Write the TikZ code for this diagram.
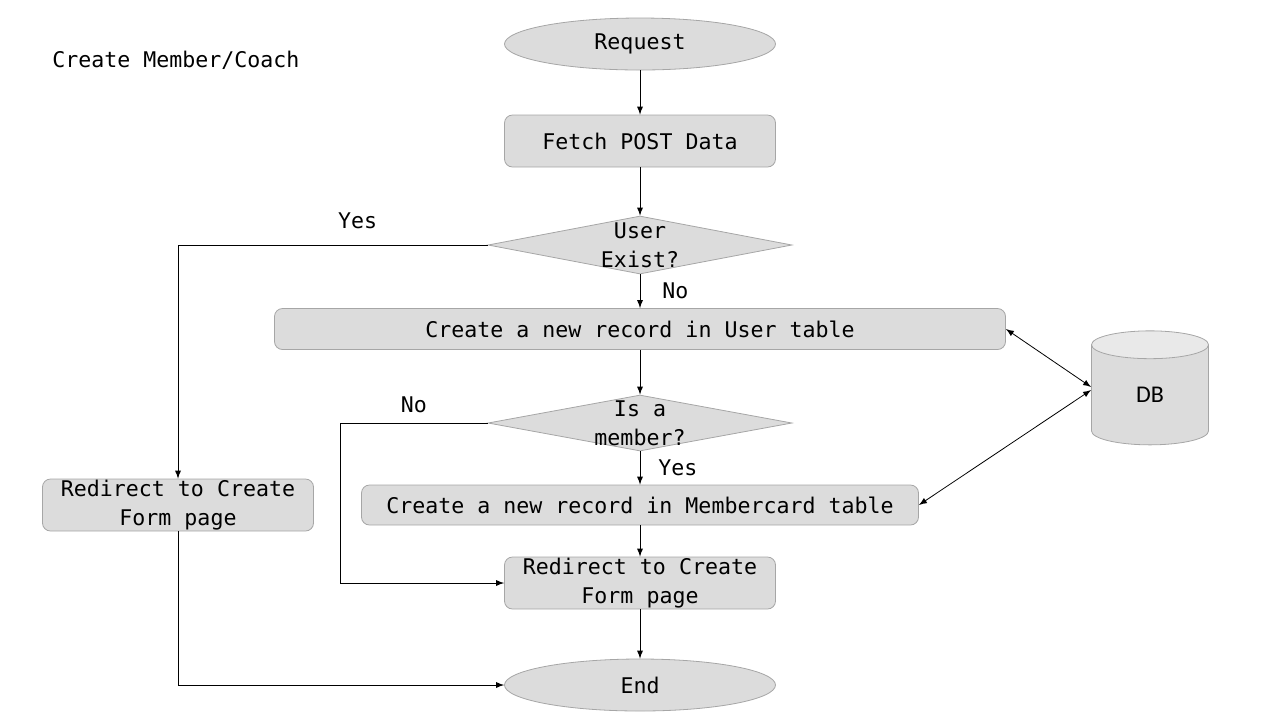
\documentclass[tikz,border=0pt]{standalone}
\usepackage{fontspec}
\setmonofont{DejaVu Sans Mono}
\newfontfamily\dbfont{Carlito}
\usetikzlibrary{arrows, arrows.meta, shapes.geometric}
\definecolor{boxfill}{HTML}{DCDCDC}
\definecolor{boxline}{HTML}{A6A6A6}
\definecolor{boxtop}{HTML}{E9E9E9}

\begin{document}
\begin{tikzpicture}[x=0.5pt, y=-0.5pt, >=latex]
\tikzstyle{txt}=[font=\ttfamily\fontsize{10.8}{14.5}\selectfont, align=center]
\tikzstyle{box}=[txt, draw=boxline, fill=boxfill, rounded corners=4pt, inner sep=0pt]
\tikzstyle{term}=[txt, ellipse, draw=boxline, fill=boxfill, inner sep=0pt, minimum width=135.5pt, minimum height=26pt]
\tikzstyle{decision}=[diamond, draw=boxline, fill=boxfill, inner sep=0pt, minimum width=152pt, minimum height=29pt]
\tikzstyle{lbl}=[txt, inner sep=1pt]
\useasboundingbox (0,0) rectangle (1280,720);

\node[txt, anchor=west, inner sep=0pt] (title) at (52,60) {Create Member/Coach};

\node[term] (req) at (640,44) {Request};
\node[box, minimum width=135.5pt, minimum height=26pt] (fetch) at (640,141) {Fetch POST Data};
\node[decision, label={[txt]center:{User\\Exist?}}] (exist) at (640,245) {};
\node[box, minimum width=365.5pt, minimum height=20.5pt] (newuser) at (640,329) {Create a new record in User table};
\node[decision, minimum height=28pt, label={[txt]center:{Is a\\member?}}] (ismember) at (640,423) {};
\node[box, minimum width=278.5pt, minimum height=20pt] (memcard) at (640,505) {Create a new record in Membercard table};
\node[box, minimum width=135.5pt, minimum height=26pt] (midredir) at (640,583) {Redirect to Create\\Form page};
\node[term] (finish) at (640,685) {End};
\node[box, minimum width=135.5pt, minimum height=26pt] (leftredir) at (178,505) {Redirect to Create\\Form page};
\node[cylinder, shape border rotate=90, aspect=1, draw=boxline, cylinder uses custom fill,
  cylinder body fill=boxfill, cylinder end fill=boxtop, minimum width=58.5pt, minimum height=57pt,
  inner sep=0pt, font=\dbfont\fontsize{12}{14}\selectfont] (db) at (1150,395) {DB};
\coordinate (nojoin) at (340,423);

\draw[->] (req) -- (fetch);
\draw[->] (fetch) -- (exist);
\draw[->] (exist) -- node[lbl, right=10pt] {No} (newuser);
\draw[->] (exist.west) -| node[lbl, above=7pt, pos=0.21] {Yes} (leftredir.north);
\draw[->] (newuser) -- (ismember);
\draw[->] (ismember) -- node[lbl, right=8pt] {Yes} (memcard);
\draw[->] (ismember.west) -- node[lbl, above=4pt] {No} (nojoin) |- (midredir.west);
\draw[->] (memcard) -- (midredir);
\draw[->] (midredir) -- (finish);
\draw[->] (leftredir) |- (finish);
\draw[<->] (newuser.east) -- ([yshift=4pt]db.west);
\draw[<->] (memcard.east) -- ([yshift=2.5pt]db.west);
\end{tikzpicture}
\end{document}
